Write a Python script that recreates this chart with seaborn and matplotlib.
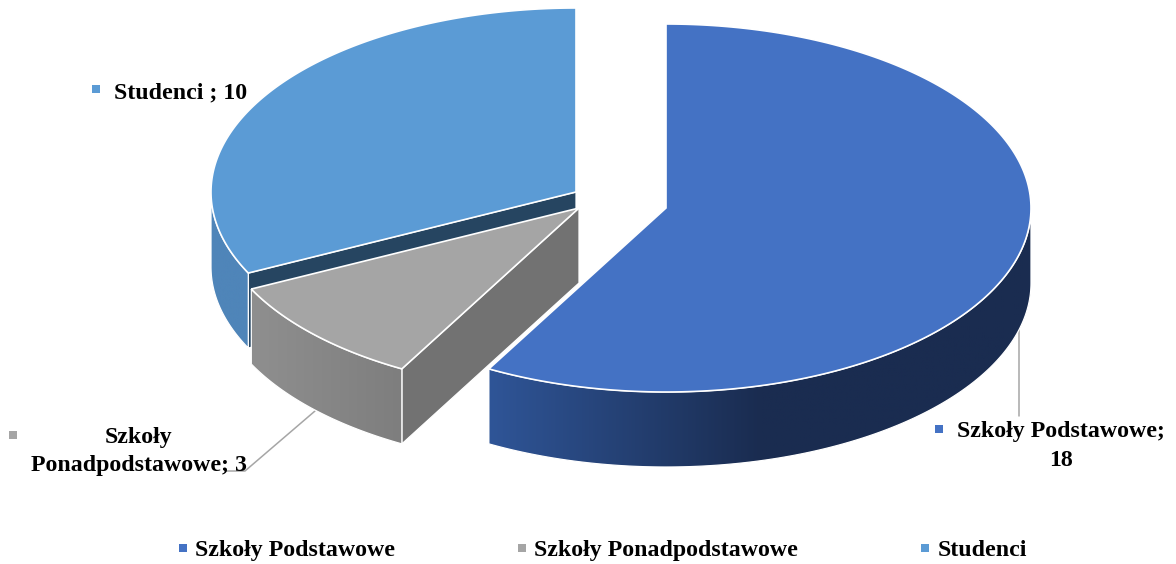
import matplotlib.pyplot as plt
from matplotlib.lines import Line2D
from matplotlib.patches import Polygon
import numpy as np
import seaborn as sns

categories = ["Szkoły Podstawowe", "Szkoły Ponadpodstawowe", "Studenci"]
values = [18, 3, 10]
colors = ["#4472C4", "#A5A5A5", "#5B9BD5"]
wall_ramps = [["#2F5597", "#1A2C50", "#1A2C50"], ["#8F8F8F", "#7E7E7E"], ["#4F85B9", "#4F85B9"]]
cut_colors = ["#1A2C50", "#727272", "#264561"]

# pixel layout of the exploded slices
centers = [(666, 208), (579, 208), (576, 192)]
RX, RY, DEPTH = 365, 184, 75

sns.set_theme(style="white")
plt.rcParams["font.family"] = ["Liberation Serif", "DejaVu Sans"]
FONT = 17.2


def rim(center, a0, a1):
    t = np.radians(np.linspace(a0, a1, 200))
    return center[0] + RX * np.sin(t), center[1] - RY * np.cos(t)


def draw_wall(ax, center, a0, a1, ramp):
    # only the front half of the rim can be seen
    a0, a1 = max(a0, 90), min(a1, 270)
    if a0 >= a1:
        return
    x, y = rim(center, a0, a1)
    pts = np.r_[np.c_[x, y], np.c_[x, y + DEPTH][::-1]]
    cmap = sns.blend_palette(ramp, as_cmap=True)
    im = ax.imshow(np.linspace(0, 1, 256)[None, :], cmap=cmap, aspect="auto",
                   extent=(x.min(), x.max(), y.max() + DEPTH, y.min()), zorder=ax.zcount)
    im.set_clip_path(Polygon(pts, transform=ax.transData))
    ax.add_patch(Polygon(pts, fc="none", ec="white", lw=0.9, zorder=ax.zcount + 0.5))
    ax.zcount += 1


def draw_slice(ax, i, a0, a1):
    c = centers[i]
    # straight cut face that looks towards the viewer
    if i > 0:
        ex, ey = rim(c, a0, a0)
        face = [c, (ex[0], ey[0]), (ex[0], ey[0] + DEPTH), (c[0], c[1] + DEPTH)]
        ax.add_patch(Polygon(face, fc=cut_colors[i], ec="white", lw=0.9, zorder=ax.zcount))
        ax.zcount += 1
    draw_wall(ax, c, a0, a1, wall_ramps[i])
    x, y = rim(c, a0, a1)
    top = np.r_[[c], np.c_[x, y]]
    ax.add_patch(Polygon(top, fc=colors[i], ec="white", lw=1.2, zorder=ax.zcount))
    ax.zcount += 1


fig = plt.figure(figsize=(11.76, 5.64), dpi=100)
ax = fig.add_axes([0, 0, 1, 1])
ax.zcount = 3

edges = np.r_[0, np.cumsum(values)] / sum(values) * 360
# leader lines sit behind the pie and the labels
ax.plot([315, 245, 225], [411, 471, 471], color="#A6A6A6", lw=1.1, zorder=1)
ax.plot([1019, 1019], [320, 416], color="#A6A6A6", lw=1.1, zorder=1)

for i in [2, 1, 0]:
    draw_slice(ax, i, edges[i], edges[i + 1])

text_kw = dict(fontsize=FONT, fontweight="bold", color="black", va="center", zorder=50)
ax.text(114, 92.5, f"{categories[2]} ; {values[2]}", ha="left", **text_kw)
ax.text(139, 438, "Szkoły", ha="center", **text_kw)
ax.text(31, 466, f"Ponadpodstawowe; {values[1]}", ha="left", **text_kw)
ax.text(957, 432, f"{categories[0]};", ha="left", **text_kw)
ax.text(1061, 460, f"{values[0]}", ha="center", **text_kw)
ax.scatter([939, 13, 96], [429, 435, 89], marker="s", s=26, c=[colors[0], colors[1], colors[2]],
           linewidths=0, zorder=50)

handles = [Line2D([], [], ls="none", marker="s", ms=5.5, mew=0, color=c) for c in colors]
ax.legend(handles, categories, loc="center", bbox_to_anchor=(599 / 1176, 1 - 550.5 / 564),
          ncols=3, frameon=False, columnspacing=4.83, handletextpad=0.0, handlelength=1.0,
          prop={"size": FONT, "weight": "bold"}, labelcolor="black")

ax.set_xlim(0, 1176)
ax.set_ylim(564, 0)
ax.axis("off")
fig.savefig("out.png", dpi=100, facecolor="white")
